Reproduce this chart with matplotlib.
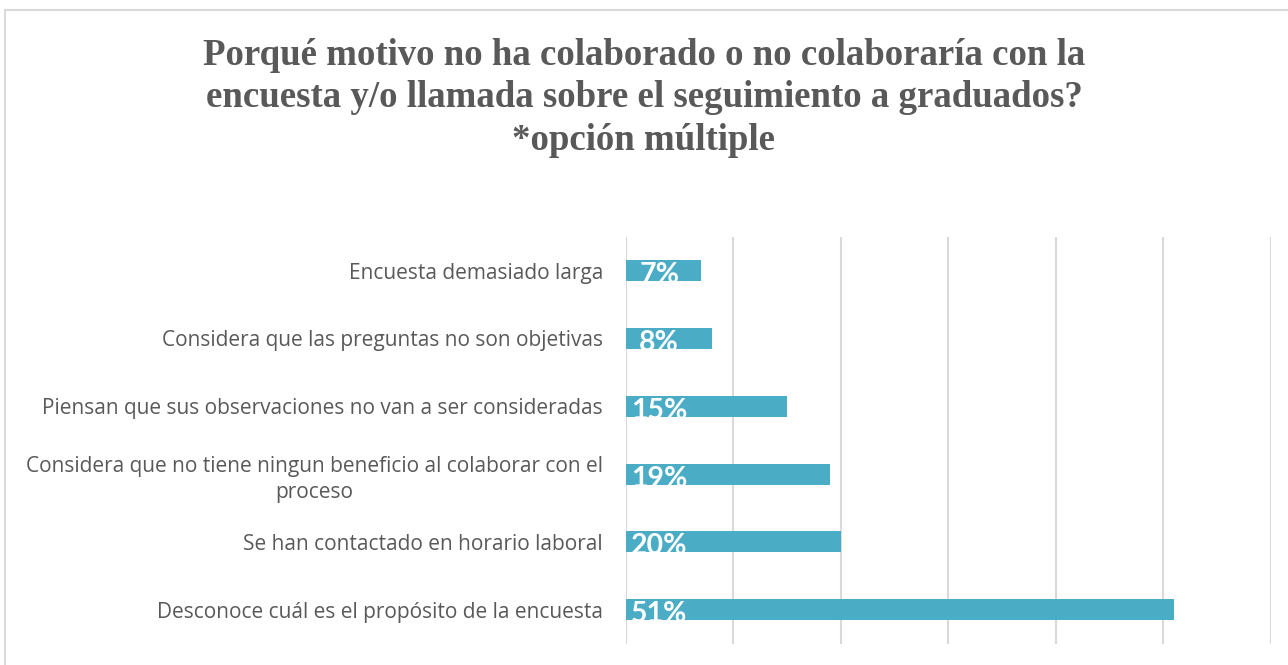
import matplotlib
matplotlib.use("Agg")
import matplotlib.pyplot as plt
from matplotlib.patches import Rectangle

# categories from top to bottom, as in the chart
categories = [
    "Encuesta demasiado larga",
    "Considera que las preguntas no son objetivas",
    "Piensan que sus observaciones no van a ser consideradas",
    "Considera que no tiene ningun beneficio al colaborar con el\nproceso",
    "Se han contactado en horario laboral",
    "Desconoce cuál es el propósito de la encuesta",
]
values = [0.07, 0.08, 0.15, 0.19, 0.20, 0.51]
value_labels = ["7%", "8%", "15%", "19%", "20%", "51%"]

title = ("Porqué motivo no ha colaborado o no colaboraría con la\n"
         "encuesta y/o llamada sobre el seguimiento a graduados?\n"
         "*opción múltiple")

bar_color = "#4bacc6"
text_gray = "#595959"
grid_gray = "#d9d9d9"

fig = plt.figure(figsize=(12.88, 6.65), dpi=100)

# outer chart frame
fig.patches.append(Rectangle((0.004, -0.1), 1.2, 1.085, transform=fig.transFigure,
                             fill=False, edgecolor=grid_gray, linewidth=1.5))

fig.text(0.5, 0.853, title, ha="center", va="center", fontsize=26.6,
         fontweight="bold", family="Liberation Serif", color=text_gray,
         linespacing=1.28)

ax = fig.add_axes([0.486, 0.032, 0.5005, 0.612])
ypos = list(range(len(categories)))
ax.barh(ypos, values, height=0.31, color=bar_color, zorder=3)
ax.set_ylim(len(categories) - 0.5, -0.5)
ax.set_xlim(0, 0.6)
ax.set_xticks([0, 0.1, 0.2, 0.3, 0.4, 0.5, 0.6])
ax.xaxis.grid(True, color=grid_gray, linewidth=1.5, zorder=0)
ax.tick_params(axis="x", labelbottom=False, length=0)
ax.tick_params(axis="y", length=0, pad=16.5)
ax.set_yticks(ypos)
ax.set_yticklabels(categories, fontsize=15, color=text_gray, family="Open Sans",
                   multialignment="center", linespacing=1.35)
for s in ax.spines.values():
    s.set_visible(False)

for y, lab in zip(ypos, value_labels):
    ax.annotate(lab, xy=(0, y), xytext=(24, -9), textcoords="offset points",
                ha="center", va="baseline", fontsize=20.5, fontweight="bold",
                family="Lato", color="white", zorder=4)

fig.savefig("out.png", dpi=100)
